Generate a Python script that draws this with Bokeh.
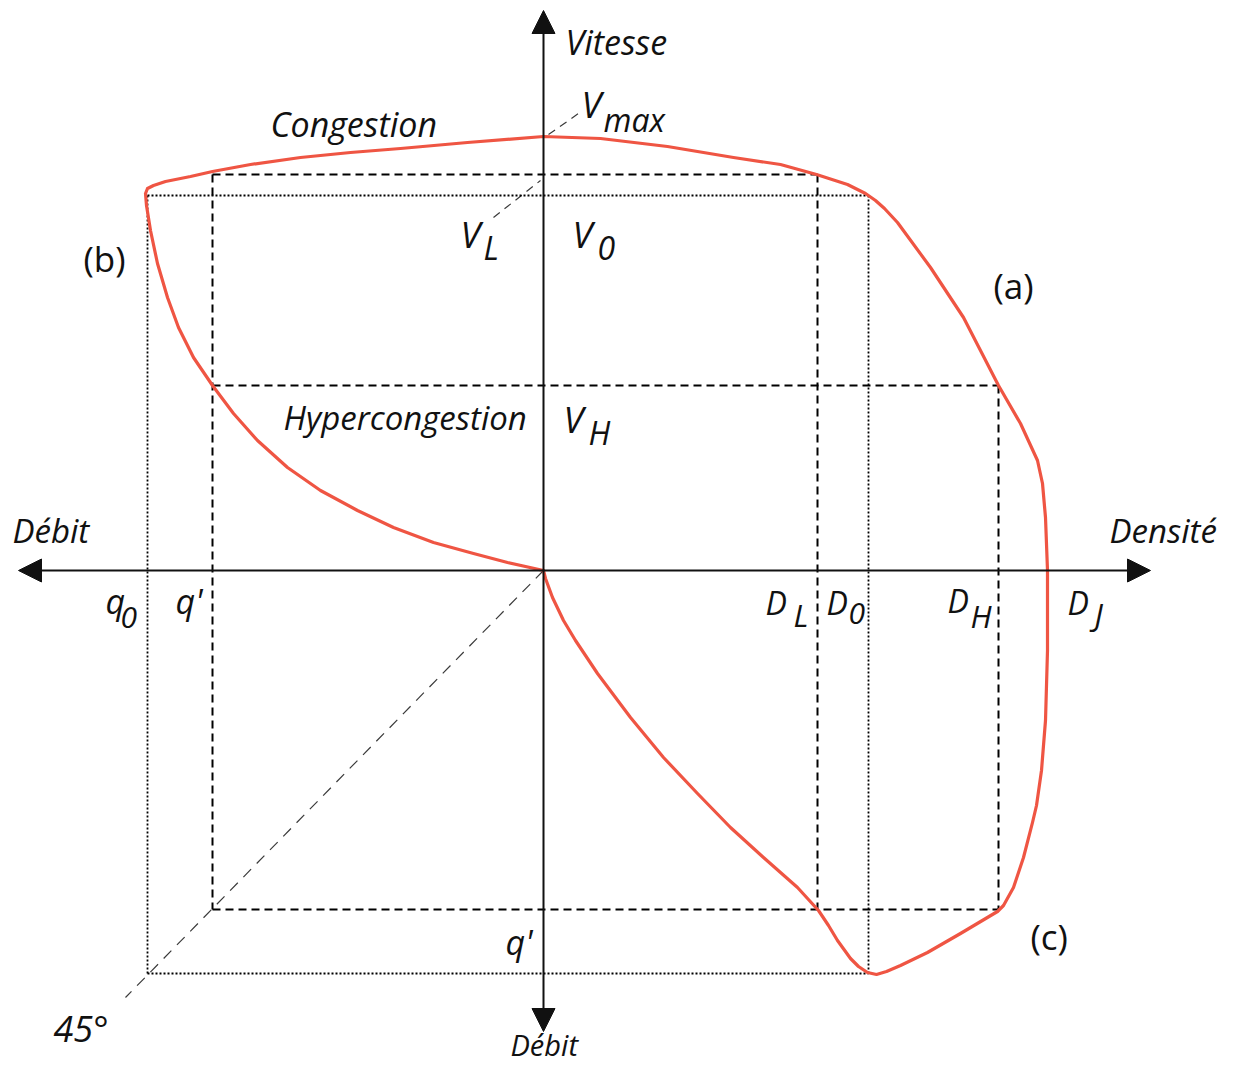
from bokeh.plotting import figure
from bokeh.models import Range1d, Arrow, NormalHead, ColumnDataSource
from bokeh.core.properties import value
from bokeh.embed import file_html
from bokeh.resources import INLINE

# Coordinates relative to the origin of the four-quadrant diagram
# x > 0 : Densité, x < 0 : Débit ; y > 0 : Vitesse, y < 0 : Débit

# Red loop: origin -> hypercongestion (b) -> congestion -> (a) -> (c) -> back to origin
curve_x = [0, -36, -70, -110, -150, -186, -223, -256, -286, -310, -331, -350, -365, -376, -386, -393, -397, -398,
           -396, -390, -378, -353, -331, -293, -243, -193, -143, -76, 0, 57, 124, 190, 237, 273, 304, 322, 332, 341,
           354, 387, 420, 455, 477, 494, 499, 502, 504, 504, 502, 498, 493, 489, 480, 470, 460, 454,
           417, 384, 357, 343, 333, 324, 315, 307, 294, 285, 275, 254, 220, 187, 154, 120, 87, 54, 32, 20, 9, 2, 0]
curve_y = [0, 8, 17, 28, 43, 60, 80, 103, 130, 157, 185, 213, 243, 273, 307, 340, 365, 377,
           382, 385, 389, 394, 399, 406, 413, 418, 422, 428, 434, 432, 424, 413, 406, 396, 386, 377, 370, 362,
           348, 303, 253, 185, 147, 110, 87, 53, 0, -80, -150, -200, -235, -252, -287, -317, -335, -341,
           -363, -382, -395, -401, -404, -402, -396, -388, -370, -355, -340, -317, -287, -257, -223, -187, -147, -103, -70, -50, -27, -8, 0]

# Reference levels
q0_left, q_prime_left = -396, -331          # débit (left half-axis)
D_L, D_0, D_H, D_J = 274, 325, 455, 504       # densités
V_max, V_L, V_0, V_H = 434, 396, 375, 185     # vitesses
q0_down, q_prime_down = -403, -339            # débit (lower half-axis)

# Axis extents
x_axis = [-525, 607]
y_axis = [-461, 560]
diag_end = [-418, -427]

# Labels
lab_text = ["Vitesse", "Congestion", "Hypercongestion", "Débit", "Densité", "Débit", "45°",
            "(a)", "(b)", "(c)",
            "V", "max", "V", "L", "V", "0", "V", "H",
            "q", "0", "q'", "D", "L", "D", "0", "D", "H", "D", "J", "q'"]
lab_x = [22, -273, -260, -531, 566, -33, -490,
         450, -460, 487,
         38, 60, -83, -60, 29, 54, 20, 45,
         -438, -423, -368, 222, 250, 283, 305, 404, 427, 524, 551, -38]
lab_y = [529, 447, 153, 40, 40, -474, -458,
         285, 312, -366,
         466, 451, 336, 323, 336, 323, 151, 138,
         -30, -47, -30, -32, -44, -32, -43, -30, -45, -32, -43, -371]
lab_size = ["34px", "34px", "33px", "33px", "33px", "29px", "36px",
            "35px", "35px", "35px",
            "36px", "32px", "36px", "32px", "36px", "32px", "36px", "32px",
            "34px", "30px", "34px", "32px", "31px", "32px", "30px", "32px", "31px", "32px", "31px", "34px"]
lab_style = ["italic"] * 7 + ["normal"] * 3 + ["italic"] * 20

RED = "#EF5543"
INK = "#111111"

p = figure(width=1219, height=1066, output_backend="svg", toolbar_location=None,
           x_range=Range1d(-543, 676), y_range=Range1d(-496, 570),
           x_axis_location=None, y_axis_location=None, min_border=0)
p.grid.visible = False
p.outline_line_color = None
p.background_fill_color = "white"
p.border_fill_color = "white"

# 45° construction line and pointer lines
p.line([0, diag_end[0]], [0, diag_end[1]], line_color="#3a3a3a", line_width=1.2, line_dash="11 8")
p.line([-50, -3], [353, 390], line_color="#3a3a3a", line_width=1.2, line_dash="8 6")
p.line([5, 35], [436, 457], line_color="#3a3a3a", line_width=1.2, line_dash="8 6")

# Dotted rectangle (q0, D0, V0)
dot = dict(line_color="black", line_width=1.8, line_dash="2 2")
p.line([q0_left, D_0], [V_0, V_0], **dot)
p.line([q0_left, q0_left], [V_0, q0_down], **dot)
p.line([D_0, D_0], [V_0, q0_down], **dot)
p.line([q0_left, D_0], [q0_down, q0_down], **dot)

# Dashed rectangles (q', D_L, V_L) and (q', D_H, V_H)
dash = dict(line_color="black", line_width=2, line_dash="8 5")
p.line([q_prime_left, D_L], [V_L, V_L], **dash)
p.line([q_prime_left, q_prime_left], [V_L, q_prime_down], **dash)
p.line([D_L, D_L], [V_L, q_prime_down], **dash)
p.line([q_prime_left, D_H], [V_H, V_H], **dash)
p.line([D_H, D_H], [V_H, q_prime_down], **dash)
p.line([q_prime_left, D_H], [q_prime_down, q_prime_down], **dash)

# Axes with arrowheads
p.add_layout(Arrow(start=NormalHead(size=23, fill_color=INK, line_color=INK),
                   end=NormalHead(size=23, fill_color=INK, line_color=INK),
                   x_start=x_axis[0], y_start=0, x_end=x_axis[1], y_end=0,
                   line_color=INK, line_width=2))
p.add_layout(Arrow(start=NormalHead(size=23, fill_color=INK, line_color=INK),
                   end=NormalHead(size=23, fill_color=INK, line_color=INK),
                   x_start=0, y_start=y_axis[0], x_end=0, y_end=y_axis[1],
                   line_color=INK, line_width=2))

# Red loop
p.line(curve_x, curve_y, line_color=RED, line_width=3.2, line_join="round", line_cap="round")

# Labels
src = ColumnDataSource(dict(text=lab_text, x=lab_x, y=lab_y, size=lab_size, style=lab_style))
p.text(x="x", y="y", text="text", source=src, text_font=value("Open Sans"),
       text_font_size="size", text_font_style="style", text_color=INK,
       text_align="left", text_baseline="alphabetic")

open("out.html", "w").write(file_html(p, INLINE))
